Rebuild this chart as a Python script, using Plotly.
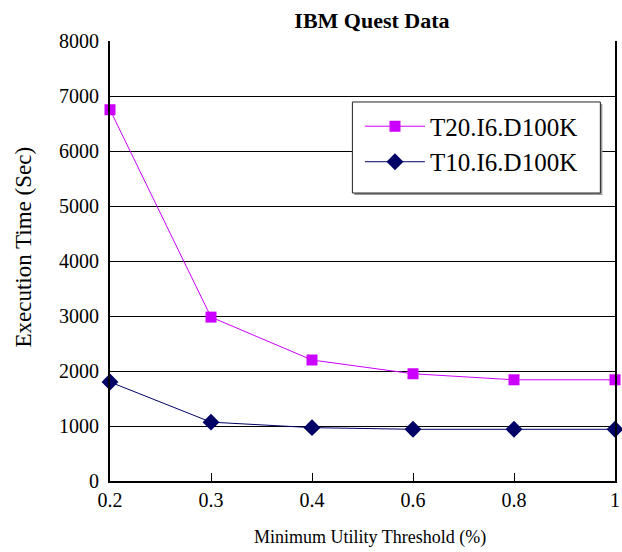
import plotly.graph_objects as go

categories = ["0.2", "0.3", "0.4", "0.6", "0.8", "1"]
t20_values = [6750, 2980, 2200, 1950, 1840, 1840]
t10_values = [1800, 1070, 970, 940, 940, 940]
y_ticks = [0, 1000, 2000, 3000, 4000, 5000, 6000, 7000, 8000]

FONT = "Liberation Serif"
xpos = list(range(len(categories)))

fig = go.Figure()
fig.add_trace(go.Scatter(
    x=xpos, y=t20_values, name="T20.I6.D100K", mode="lines+markers",
    line=dict(color="#CC00FF", width=1),
    marker=dict(symbol="square", size=11, color="#CC00FF"),
    cliponaxis=False,
))
fig.add_trace(go.Scatter(
    x=xpos, y=t10_values, name="T10.I6.D100K", mode="lines+markers",
    line=dict(color="#000066", width=1),
    marker=dict(symbol="diamond", size=13, color="#000066"),
    cliponaxis=False,
))

fig.update_layout(
    width=622, height=552,
    margin=dict(l=110, r=2, t=41, b=71),
    paper_bgcolor="white", plot_bgcolor="white",
    font=dict(family=FONT, size=20, color="black"),
    title=dict(text="<b>IBM Quest Data</b>", x=0.598, xanchor="center",
               y=0.963, yanchor="middle", font=dict(family=FONT, size=22)),
    showlegend=True,
    legend=dict(x=0.495, y=0.858, xanchor="left", yanchor="top",
                borderwidth=0, bgcolor="rgba(0,0,0,0)",
                font=dict(family=FONT, size=25),
                itemwidth=60, tracegroupgap=0),
    xaxis=dict(
        tickmode="array", tickvals=xpos, ticktext=categories,
        range=[0, len(categories) - 1],
        showgrid=False, zeroline=False,
        showline=True, linecolor="black", linewidth=2, mirror=False,
        ticks="inside", ticklen=8, tickcolor="black", tickwidth=1,
        tickfont=dict(family=FONT, size=20), ticklabeloverflow="allow",
    ),
    yaxis=dict(
        tickmode="array", tickvals=y_ticks, ticktext=[str(v) for v in y_ticks],
        range=[0, 8000],
        showgrid=True, gridcolor="black", gridwidth=1, zeroline=False,
        showline=True, linecolor="black", linewidth=2, mirror=True,
        ticks="", tickfont=dict(family=FONT, size=20), ticklabelstandoff=5,
    ),
    annotations=[
        dict(text="Execution Time (Sec)", textangle=-90, xref="paper", yref="paper",
             x=-0.172, y=0.531, xanchor="center", yanchor="middle", showarrow=False,
             font=dict(family=FONT, size=23)),
        dict(text="Minimum Utility Threshold (%)", xref="paper", yref="paper",
             x=0.514, y=-0.129, xanchor="center", yanchor="middle", showarrow=False,
             font=dict(family=FONT, size=18)),
    ],
)

# legend frame with a soft shadow
fig.add_shape(type="rect", xref="paper", yref="paper", layer="above",
              x0=0.484, x1=0.975, y0=0.650, y1=0.857,
              line=dict(width=0), fillcolor="#999999")
fig.add_shape(type="rect", xref="paper", yref="paper", layer="above",
              x0=0.480, x1=0.971, y0=0.6545, y1=0.8614,
              line=dict(color="#222222", width=1), fillcolor="white")

fig.write_html("out.html")
